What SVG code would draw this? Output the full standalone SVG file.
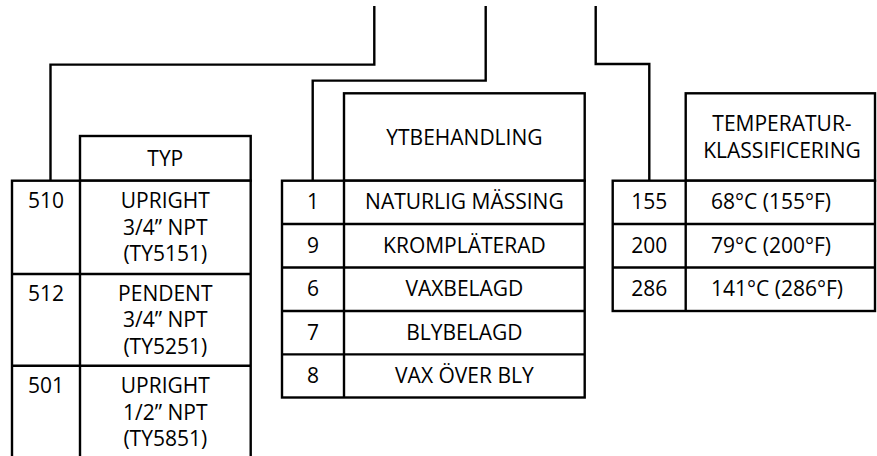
<svg xmlns="http://www.w3.org/2000/svg" width="877" height="456" viewBox="0 0 877 456">
<style>
.bg{fill:#fff}
.box{fill:#fff;stroke:#000;stroke-width:2.4}
.ln{fill:none;stroke:#000;stroke-width:2.4}
.conn{fill:none;stroke:#000;stroke-width:2.4;stroke-linejoin:miter}
text{font-family:"Open Sans","Noto Sans","Liberation Sans",sans-serif;font-size:21px;fill:#000}
.c{text-anchor:middle}
</style>
<rect class="bg" x="0" y="0" width="877" height="456"/>
<g id="connectors">
<path class="conn" d="M374.3,6 V64.6 H50.5 V181"/>
<path class="conn" d="M485.7,6 V80.6 H312.7 V181"/>
<path class="conn" d="M595.7,6 V64 H649.3 V181"/>
</g>
<g id="typ-table">
<rect class="box" x="80" y="136" width="170.7" height="44.7"/>
<text class="c" x="165.3" y="165.6">TYP</text>
<rect class="box" x="12" y="180.7" width="238.7" height="300"/>
<line class="ln" x1="80" y1="180.7" x2="80" y2="480"/>
<line class="ln" x1="12" y1="274" x2="250.7" y2="274"/>
<line class="ln" x1="12" y1="365.7" x2="250.7" y2="365.7"/>
<g id="typ-510">
<text class="c" x="46" y="208">510</text>
<text class="c" x="165.3" y="208">UPRIGHT</text>
<text class="c" x="165.3" y="234.5">3/4” NPT</text>
<text class="c" x="165.3" y="261">(TY5151)</text>
</g>
<g id="typ-512">
<text class="c" x="46" y="300.5">512</text>
<text class="c" x="165.3" y="300.5">PENDENT</text>
<text class="c" x="165.3" y="327">3/4” NPT</text>
<text class="c" x="165.3" y="353.5">(TY5251)</text>
</g>
<g id="typ-501">
<text class="c" x="46" y="393">501</text>
<text class="c" x="165.3" y="393">UPRIGHT</text>
<text class="c" x="165.3" y="419.5">1/2” NPT</text>
<text class="c" x="165.3" y="446">(TY5851)</text>
</g>
</g>
<g id="ytbehandling-table">
<rect class="box" x="344" y="93.3" width="240.7" height="87.4"/>
<text class="c" x="464.4" y="145">YTBEHANDLING</text>
<rect class="box" x="282" y="180.7" width="302.7" height="216.8"/>
<line class="ln" x1="344" y1="180.7" x2="344" y2="397.5"/>
<line class="ln" x1="282" y1="224" x2="584.7" y2="224"/>
<line class="ln" x1="282" y1="267.5" x2="584.7" y2="267.5"/>
<line class="ln" x1="282" y1="311" x2="584.7" y2="311"/>
<line class="ln" x1="282" y1="354.4" x2="584.7" y2="354.4"/>
<text class="c" x="313" y="209">1</text>
<text class="c" x="464.4" y="209">NATURLIG MÄSSING</text>
<text class="c" x="313" y="252.5">9</text>
<text class="c" x="464.4" y="252.5">KROMPLÄTERAD</text>
<text class="c" x="313" y="296">6</text>
<text class="c" x="464.4" y="296">VAXBELAGD</text>
<text class="c" x="313" y="339.5">7</text>
<text class="c" x="464.4" y="339.5">BLYBELAGD</text>
<text class="c" x="313" y="383">8</text>
<text class="c" x="464.4" y="383">VAX ÖVER BLY</text>
</g>
<g id="temperatur-table">
<rect class="box" x="685.7" y="93.3" width="189.3" height="87.4"/>
<text class="c" x="782" y="130.7">TEMPERATUR-</text>
<text class="c" x="782" y="158.3">KLASSIFICERING</text>
<rect class="box" x="612.7" y="180.7" width="262.3" height="130.3"/>
<line class="ln" x1="685.7" y1="180.7" x2="685.7" y2="311"/>
<line class="ln" x1="612.7" y1="224" x2="875" y2="224"/>
<line class="ln" x1="612.7" y1="267.5" x2="875" y2="267.5"/>
<text class="c" x="649.2" y="209">155</text>
<text x="711" y="209">68°C (155°F)</text>
<text class="c" x="649.2" y="252.5">200</text>
<text x="711" y="252.5">79°C (200°F)</text>
<text class="c" x="649.2" y="296">286</text>
<text x="711" y="296">141°C (286°F)</text>
</g>
</svg>
